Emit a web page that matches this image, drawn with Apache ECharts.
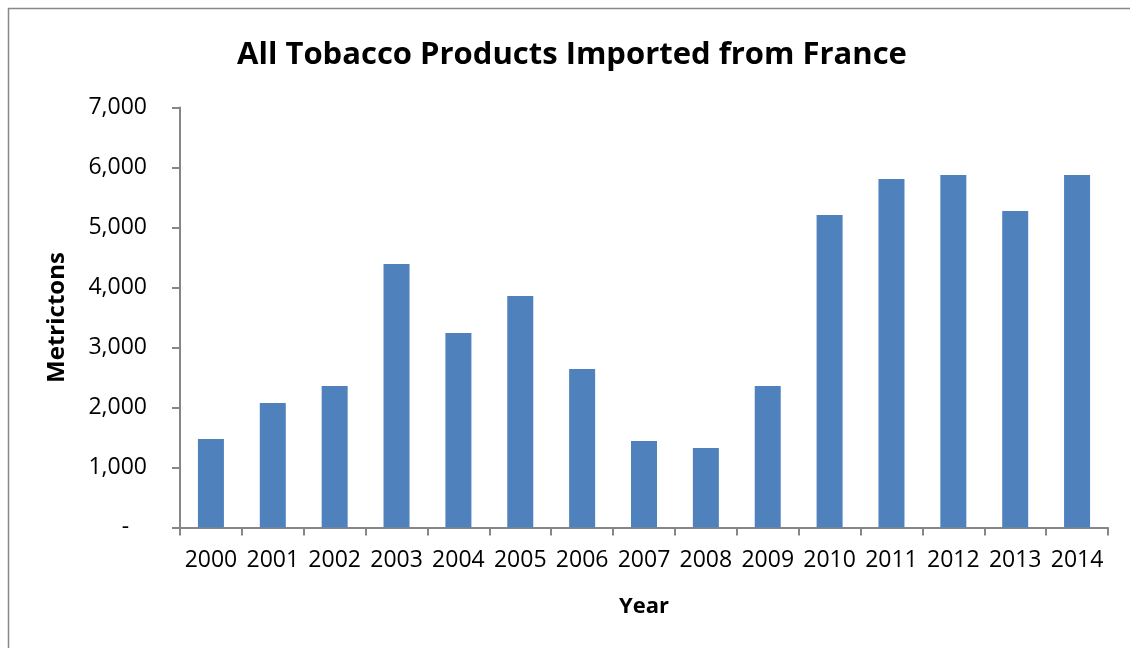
<!DOCTYPE html>
<html>
<head>
<meta charset="utf-8">
<script src="https://cdn.jsdelivr.net/npm/echarts@6/dist/echarts.min.js"></script>
<style>
  html, body { margin: 0; padding: 0; background: #fff; }
  #chart { width: 1130px; height: 648px; }
</style>
</head>
<body>
<div id="chart"></div>
<script>
const years = ['2000','2001','2002','2003','2004','2005','2006','2007','2008','2009','2010','2011','2012','2013','2014'];
const metrictons = [1475, 2075, 2358, 4392, 3242, 3858, 2642, 1442, 1325, 2358, 5208, 5808, 5875, 5275, 5875];
const yTicks = [0, 1000, 2000, 3000, 4000, 5000, 6000, 7000];

const FONT = '"Open Sans", sans-serif';
const chart = echarts.init(document.getElementById('chart'), null, { renderer: 'canvas' });
chart.setOption({
  animation: false,
  backgroundColor: '#ffffff',
  graphic: [
    { type: 'rect', shape: { x: 8.5, y: 8.5, width: 1140, height: 660 },
      style: { fill: 'none', stroke: '#888888', lineWidth: 1.5 }, silent: true },
    { type: 'text', x: 572, y: 40,
      style: { text: 'All Tobacco Products Imported from France', font: 'bold 31px ' + FONT, fill: '#000', textAlign: 'center', textVerticalAlign: 'top' } }
  ],
  grid: { left: 180, right: 22, top: 107.5, bottom: 120.5, containLabel: false },
  xAxis: {
    type: 'category',
    data: years,
    name: 'Year',
    nameLocation: 'middle',
    nameGap: 68,
    nameTextStyle: { fontFamily: FONT, fontWeight: 'bold', fontSize: 22, color: '#000' },
    axisLine: { lineStyle: { color: '#868686', width: 2 } },
    axisTick: { show: true, length: 8, lineStyle: { color: '#868686', width: 2 } },
    axisLabel: { fontFamily: FONT, fontSize: 23, color: '#000', margin: 21, interval: 0 }
  },
  yAxis: {
    type: 'value',
    min: yTicks[0],
    max: yTicks[yTicks.length - 1],
    interval: 1000,
    name: 'Metrictons',
    nameLocation: 'middle',
    nameGap: 111,
    nameRotate: 90,
    nameTextStyle: { fontFamily: FONT, fontWeight: 'bold', fontSize: 24, color: '#000' },
    splitLine: { show: false },
    axisLine: { show: true, lineStyle: { color: '#868686', width: 2 } },
    axisTick: { show: true, length: 8, lineStyle: { color: '#868686', width: 2 } },
    axisLabel: {
      fontFamily: FONT, fontSize: 23, color: '#000', margin: 33,
      formatter: function (v) { return v === 0 ? '-   ' : v.toLocaleString('en-US'); }
    }
  },
  series: [{
    type: 'bar',
    data: metrictons,
    barWidth: 26,
    itemStyle: { color: '#4f81bd' }
  }]
});
</script>
</body>
</html>
